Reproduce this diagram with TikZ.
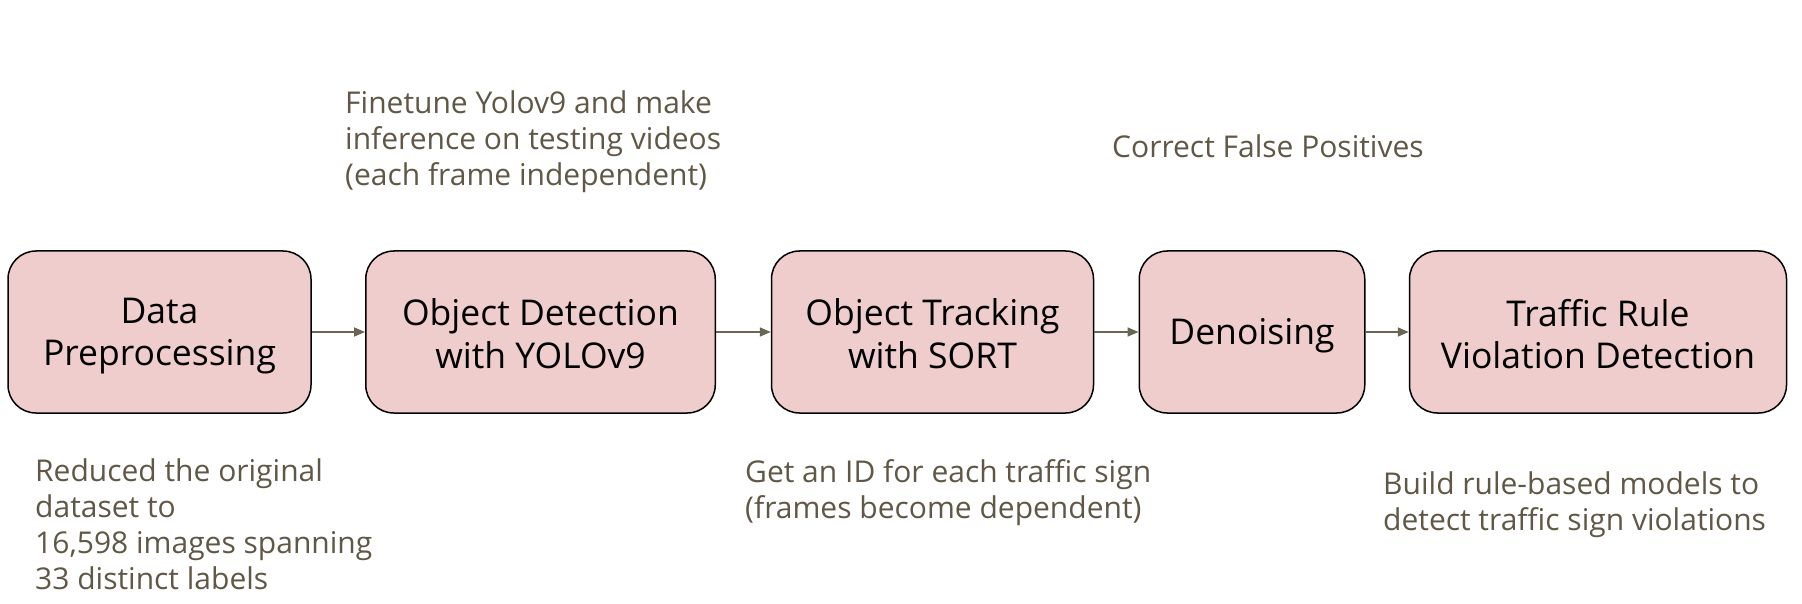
\documentclass[tikz,border=0pt]{standalone}
\usepackage{fontspec}
\setmainfont{Open Sans}
\usetikzlibrary{arrows.meta}
\definecolor{boxfill}{RGB}{238,205,204}
\definecolor{annot}{RGB}{96,87,70}
\definecolor{arrowc}{RGB}{107,99,84}
\newcommand\bstrut{\rule[-4pt]{0pt}{38pt}}
\begin{document}
\begin{tikzpicture}[x=1pt,y=-1pt,
  stage/.style={draw=black, line width=1.5pt, fill=boxfill, rounded corners=28pt,
    minimum height=162pt, align=center, font=\fontsize{35.5}{42}\selectfont, inner sep=0pt},
  note/.style={text=annot, align=left, font=\fontsize{30}{36}\selectfont, inner sep=0pt, anchor=north west},
  flow/.style={draw=arrowc, line width=1.6pt, -{Triangle[length=11pt,width=9pt]}}]
\useasboundingbox (0,0) rectangle (1802,604);
\node[stage, minimum width=303pt] (dp) at (159.5,332) {\bstrut Data\\Preprocessing\bstrut};
\node[stage, minimum width=349.5pt] (od) at (540.5,332) {\bstrut Object Detection\\with YOLOv9\bstrut};
\node[stage, minimum width=322pt] (ot) at (932.5,332) {\bstrut Object Tracking\\with SORT\bstrut};
\node[stage, minimum width=225.5pt] (dn) at (1252,332) {\bstrut Denoising};
\node[stage, minimum width=377pt] (tr) at (1598,332) {\bstrut Traffic Rule\\Violation Detection\bstrut};
\draw[flow] (dp) -- (od);
\draw[flow] (od) -- (ot);
\draw[flow] (ot) -- (dn);
\draw[flow] (dn) -- (tr);
\node[note] (n1) at (345,90.5) {Finetune Yolov9 and make\\inference on testing videos\\(each frame independent)};
\node[note] (n2) at (1112,135) {Correct False Positives};
\node[note] (n3) at (35,459) {Reduced the original\\dataset to\\16,598 images spanning\\33 distinct labels};
\node[note] (n4) at (745,459) {Get an ID for each traffic sign\\(frames become dependent)};
\node[note] (n5) at (1383,472) {Build rule-based models to\\detect traffic sign violations};
\end{tikzpicture}
\end{document}
